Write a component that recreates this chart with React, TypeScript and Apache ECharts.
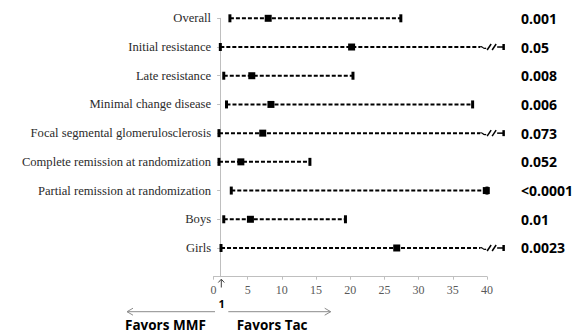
import React, { useEffect, useRef } from "react";
import * as echarts from "echarts";

const categories = [
  "Overall",
  "Initial resistance",
  "Late resistance",
  "Minimal change disease",
  "Focal segmental glomerulosclerosis",
  "Complete remission at randomization",
  "Partial remission at randomization",
  "Boys",
  "Girls",
];
const lowerCI = [2.4, 1.0, 1.5, 1.9, 0.8, 0.8, 2.6, 1.5, 1.1];
const estimates = [8.0, 20.2, 5.6, 8.4, 7.2, 4.0, 39.9, 5.4, 26.8];
const upperCI = [27.4, 42.4, 20.4, 37.9, 42.4, 14.1, 40, 19.3, 42.4];
const truncatedFlags = [0, 1, 0, 0, 1, 0, 0, 0, 1];
const pValues = ["0.001", "0.05", "0.008", "0.006", "0.073", "0.052", "<0.0001", "0.01", "0.0023"];
const xMin = 0;
const xMax = 40;
const xInterval = 5;
const breakStart = 39;
const referenceValue = 1;

export default function App() {
  const ref = useRef<HTMLDivElement>(null);
  useEffect(() => {
    if (!ref.current) return;
    const chart = echarts.init(ref.current, null, { renderer: "svg" });
    const n = categories.length;
    const yCats = ["", ...categories.slice().reverse()];
    const yP = ["", ...pValues.slice().reverse()];
    const data = categories.map((c, i) => [n - 1 - i + 1, lowerCI[i], estimates[i], upperCI[i], truncatedFlags[i]]);

    const renderItem = (params: any, api: any) => {
      const yi = api.value(0);
      const lo = api.value(1);
      const est = api.value(2);
      const up = api.value(3);
      const tr = api.value(4);
      const pLo = api.coord([lo, yi]);
      const pEst = api.coord([est, yi]);
      const pEnd = api.coord([tr ? breakStart : up, yi]);
      const cy = pLo[1];
      const black = "#000";
      const children: any[] = [
        {
          type: "line",
          shape: { x1: pLo[0], y1: cy, x2: pEnd[0], y2: cy },
          style: { stroke: black, lineWidth: 2, lineDash: [4, 2] },
        },
        { type: "rect", shape: { x: pLo[0] - 1.5, y: cy - 4, width: 3, height: 8 }, style: { fill: black } },
      ];
      if (!tr) {
        const pUp = api.coord([up, yi]);
        children.push({ type: "rect", shape: { x: pUp[0] - 1.5, y: cy - 4, width: 3, height: 8 }, style: { fill: black } });
      } else {
        const x0 = pEnd[0];
        children.push({
          type: "bezierCurve",
          shape: { x1: x0, y1: cy, cpx1: x0 + 2, cpy1: cy - 2, cpx2: x0 + 3, cpy2: cy + 3, x2: x0 + 6, y2: cy + 1 },
          style: { stroke: black, lineWidth: 1.2, fill: null },
        });
        const s1 = x0 + 9;
        const s2 = x0 + 14;
        children.push({ type: "line", shape: { x1: s1 - 2, y1: cy + 3, x2: s1 + 2, y2: cy - 3 }, style: { stroke: black, lineWidth: 1.5 } });
        children.push({ type: "line", shape: { x1: s2 - 2, y1: cy + 3, x2: s2 + 2, y2: cy - 3 }, style: { stroke: black, lineWidth: 1.5 } });
        const pUp = api.coord([up, yi]);
        children.push({ type: "line", shape: { x1: s2 + 3, y1: cy, x2: pUp[0], y2: cy }, style: { stroke: black, lineWidth: 1.5 } });
        children.push({ type: "rect", shape: { x: pUp[0] - 1, y: cy - 3, width: 2.5, height: 6 }, style: { fill: black } });
      }
      children.push({ type: "rect", shape: { x: pEst[0] - 3.5, y: cy - 3.5, width: 7, height: 7 }, style: { fill: black } });
      return { type: "group", children };
    };

    const gray = "#8c8c8c";
    chart.setOption({
      animation: false,
      backgroundColor: "#fff",
      grid: { left: 213.5, right: 87.3, top: 18.3, bottom: 55.3, containLabel: false },
      xAxis: {
        type: "value",
        min: xMin,
        max: xMax,
        interval: xInterval,
        splitLine: { show: false },
        axisLine: { show: true, lineStyle: { color: "#bfbfbf", width: 1 } },
        axisTick: { show: true, length: 3, lineStyle: { color: "#bfbfbf" } },
        axisLabel: { color: "#595959", fontFamily: "Liberation Serif", fontSize: 12, margin: 7 },
      },
      yAxis: [
        {
          type: "category",
          data: yCats,
          boundaryGap: false,
          offset: -6.6,
          axisLine: { show: true, onZero: false, lineStyle: { color: "#bfbfbf", width: 1 } },
          axisTick: { show: true, length: 3, lineStyle: { color: "#bfbfbf" } },
          axisLabel: {
            color: "#2b2b2b",
            fontFamily: "Liberation Serif",
            fontSize: 12.6,
            margin: 9,
            interval: 0,
          },
          splitLine: { show: false },
        },
        {
          type: "category",
          data: yP,
          boundaryGap: false,
          position: "right",
          axisLine: { show: false },
          axisTick: { show: false },
          axisLabel: {
            color: "#000",
            fontFamily: "Open Sans",
            fontWeight: "bold",
            fontSize: 14,
            margin: 34,
            interval: 0,
            align: "left",
          },
          splitLine: { show: false },
        },
      ],
      series: [
        {
          type: "custom",
          coordinateSystem: "cartesian2d",
          xAxisIndex: 0,
          yAxisIndex: 0,
          clip: false,
          renderItem,
          encode: { x: [1, 2, 3], y: 0 },
          data,
          silent: true,
        },
      ],
      graphic: [
        { type: "line", shape: { x1: 221.3, y1: 279.5, x2: 221.3, y2: 287.5 }, style: { stroke: "#404040", lineWidth: 1 } },
        { type: "polyline", shape: { points: [[218.3, 282.5], [221.3, 279.2], [224.3, 282.5]] }, style: { stroke: "#404040", lineWidth: 1, fill: null } },
        {
          type: "text",
          x: 221.7,
          y: 303.5,
          style: { text: String(referenceValue), fill: "#000", font: "bold 11px 'Open Sans'", align: "center", verticalAlign: "middle" },
        },
        { type: "line", shape: { x1: 215, y1: 311.7, x2: 127, y2: 311.7 }, style: { stroke: gray, lineWidth: 1 } },
        { type: "polyline", shape: { points: [[133, 308.2], [127, 311.7], [133, 315.2]] }, style: { stroke: gray, lineWidth: 1, fill: null } },
        { type: "line", shape: { x1: 228.3, y1: 311.7, x2: 330.7, y2: 311.7 }, style: { stroke: gray, lineWidth: 1 } },
        { type: "polyline", shape: { points: [[324.7, 308.2], [330.7, 311.7], [324.7, 315.2]] }, style: { stroke: gray, lineWidth: 1, fill: null } },
        {
          type: "text",
          x: 125,
          y: 331.5,
          style: { text: "Favors MMF", fill: "#000", font: "bold 13.5px 'Open Sans'", align: "left", verticalAlign: "bottom" },
        },
        {
          type: "text",
          x: 236.7,
          y: 331.5,
          style: { text: "Favors Tac", fill: "#000", font: "bold 13.5px 'Open Sans'", align: "left", verticalAlign: "bottom" },
        },
      ],
    });
    return () => chart.dispose();
  }, []);
  return <div ref={ref} style={{ position: "absolute", left: 0, top: 0, width: 576, height: 332 }} />;
}
